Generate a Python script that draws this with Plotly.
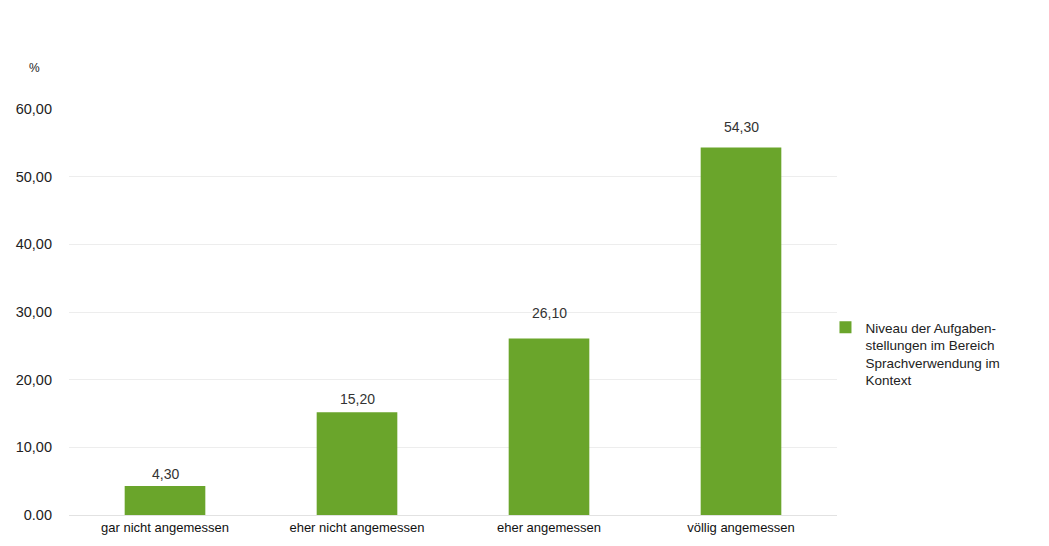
import plotly.graph_objects as go

categories = ["gar nicht angemessen", "eher nicht angemessen", "eher angemessen", "völlig angemessen"]
values = [4.30, 15.20, 26.10, 54.30]
tick_values = [0, 10, 20, 30, 40, 50, 60]
tick_labels = ["0.00", "10,00", "20,00", "30,00", "40,00", "50,00", "60,00"]
series_name = "Niveau der Aufgaben-<br>stellungen im Bereich<br>Sprachverwendung im<br>Kontext"

green = "#6aa52b"
font_family = "Liberation Sans, Arial, sans-serif"

labels = [f"{v:.2f}".replace(".", ",") for v in values]
# extra lift (px) of each value label above its bar
label_lift = [2, 3, 15, 11]

fig = go.Figure()
fig.add_trace(go.Bar(
    x=categories,
    y=values,
    name=series_name,
    marker=dict(color=green, line=dict(width=0)),
    width=0.42,
    showlegend=True,
))

annotations = [
    dict(
        x=c, y=v, xref="x", yref="y",
        text=t, showarrow=False,
        xanchor="center", yanchor="bottom",
        yshift=s,
        font=dict(size=14, color="#333333", family=font_family),
    )
    for c, v, t, s in zip(categories, values, labels, label_lift)
]
annotations.append(dict(
    text="%",
    xref="paper", yref="paper",
    x=-0.045, y=1.1,
    xanchor="center", yanchor="middle",
    showarrow=False,
    font=dict(size=12, color="#222222"),
))

fig.update_layout(
    width=1049,
    height=546,
    margin=dict(l=69, r=212, t=109, b=31),
    paper_bgcolor="white",
    plot_bgcolor="white",
    font=dict(family=font_family, size=12, color="#222222"),
    xaxis=dict(
        showgrid=False,
        showline=True,
        linecolor="#e2e2e2",
        linewidth=1,
        ticks="",
        tickfont=dict(size=13, color="#111111"),
    ),
    yaxis=dict(
        range=[0, 60],
        tickvals=tick_values,
        ticktext=tick_labels,
        showgrid=True,
        gridcolor="#ededed",
        gridwidth=1,
        zeroline=False,
        showline=False,
        ticks="",
        ticklabelstandoff=16,
        tickfont=dict(size=14.5, color="#222222"),
    ),
    legend=dict(
        x=0.985,
        y=0.50,
        xanchor="left",
        yanchor="top",
        valign="top",
        font=dict(size=13.5, color="#222222"),
        itemwidth=30,
        bgcolor="rgba(0,0,0,0)",
    ),
    annotations=annotations,
)

fig.write_html("out.html")
